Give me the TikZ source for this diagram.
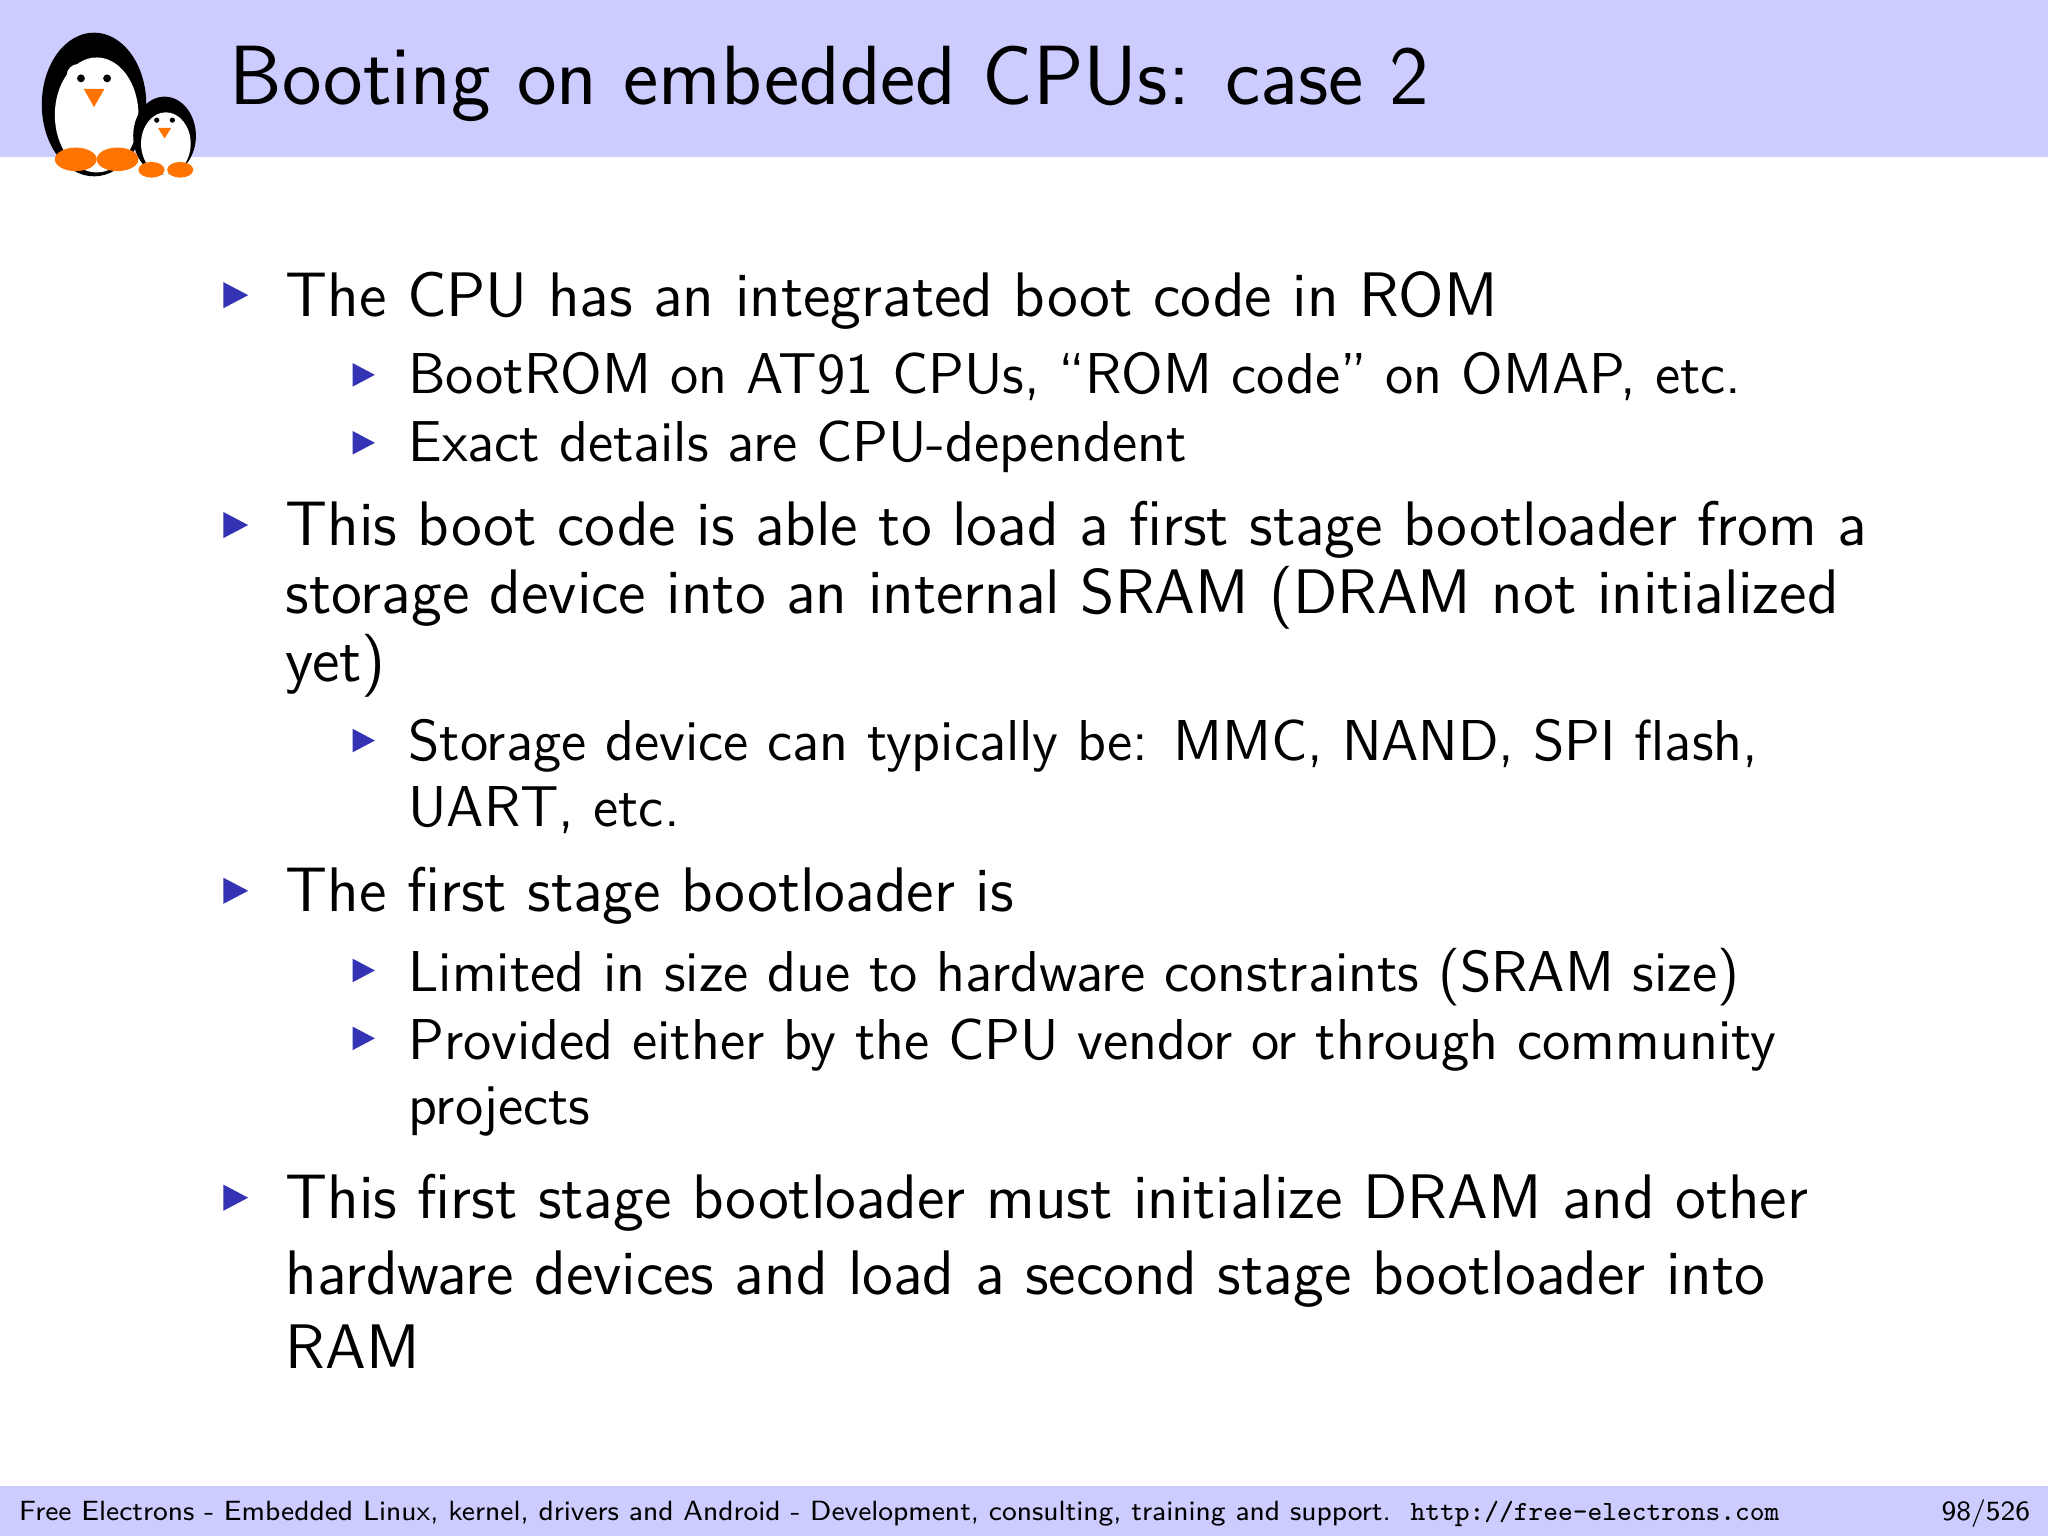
\documentclass[tikz,border=0pt]{standalone}
\usepackage{fontspec}
\begin{document}
\begin{tikzpicture}[x=0.01cm,y=-0.01cm,
  ln/.style={anchor=base west,inner sep=0pt,font=\sffamily\fontsize{13.7}{16}\selectfont},
  sub/.style={anchor=base west,inner sep=0pt,font=\sffamily\fontsize{12.55}{15}\selectfont},
  ft/.style={fill=orange!90!red}]
\definecolor{hdr}{RGB}{204,204,255}
\definecolor{bul}{RGB}{51,51,179}
\useasboundingbox (0,0) rectangle (1568,1176);
\fill[white] (0,0) rectangle (1568,1176);
\fill[hdr] (0,0) rectangle (1568,120);
\fill[hdr] (0,1138) rectangle (1568,1176);
% penguins
\fill[black] (72,80) ellipse (40 and 55);
\fill[white] (74,88) ellipse (32 and 44);
\fill[white] (60,58) circle (9); \fill[white] (84,58) circle (9);
\fill[black] (62,60) circle (3); \fill[black] (82,60) circle (3);
\fill[ft] (64,68) -- (80,68) -- (72,82) -- cycle;
\fill[ft] (58,122) ellipse (16 and 9); \fill[ft] (90,122) ellipse (16 and 9);
\fill[black] (126,104) ellipse (24 and 30);
\fill[white] (127,110) ellipse (19 and 24);
\fill[black] (120,92) circle (2); \fill[black] (132,92) circle (2);
\fill[ft] (121,98) -- (131,98) -- (126,106) -- cycle;
\fill[ft] (116,130) ellipse (10 and 6); \fill[ft] (138,130) ellipse (10 and 6);
\node[anchor=base west,inner sep=0pt,font=\sffamily\fontsize{18.3}{22}\selectfont] (title) at (175,80) {Booting on embedded CPUs: case 2};
% bullets
\foreach \y in {226,402,682,917} \fill[bul] (171,\y-10) -- (190,\y) -- (171,\y+10) -- cycle;
\foreach \y in {287,339,567,743,795} \fill[bul] (270,\y-9) -- (287,\y) -- (270,\y+9) -- cycle;
\node[ln] (a1) at (218,242) {The CPU has an integrated boot code in ROM};
\node[sub] (a2) at (312,301) {BootROM on AT91 CPUs, ``ROM code'' on OMAP, etc.};
\node[sub] (a3) at (312,353) {Exact details are CPU-dependent};
\node[ln] (b1) at (218,418) {This boot code is able to load a first stage bootloader from a};
\node[ln] (b2) at (218,470) {storage device into an internal SRAM (DRAM not initialized};
\node[ln] (b3) at (218,522) {yet)};
\node[sub] (b4) at (312,582) {Storage device can typically be: MMC, NAND, SPI flash,};
\node[sub] (b5) at (312,633) {UART, etc.};
\node[ln] (c1) at (218,698) {The first stage bootloader is};
\node[sub] (c2) at (312,759) {Limited in size due to hardware constraints (SRAM size)};
\node[sub] (c3) at (312,811) {Provided either by the CPU vendor or through community};
\node[sub] (c4) at (312,861) {projects};
\node[ln] (d1) at (218,933) {This first stage bootloader must initialize DRAM and other};
\node[ln] (d2) at (218,991) {hardware devices and load a second stage bootloader into};
\node[ln] (d3) at (218,1048) {RAM};
\node[anchor=base west,inner sep=0pt,font=\sffamily\fontsize{6.05}{8}\selectfont] (f1) at (14,1164) {Free Electrons - Embedded Linux, kernel, drivers and Android - Development, consulting, training and support.\ \ \texttt{http://free-electrons.com}};
\node[anchor=base east,inner sep=0pt,font=\sffamily\fontsize{6.05}{8}\selectfont] (f2) at (1555,1164) {98/526};
\end{tikzpicture}
\end{document}
